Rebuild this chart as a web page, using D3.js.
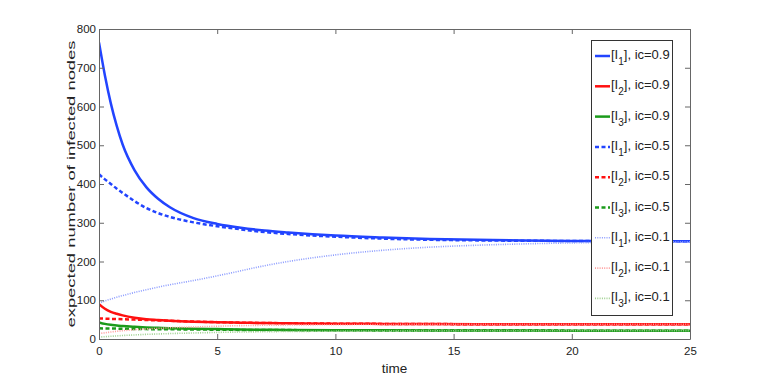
<!DOCTYPE html>
<html>
<head>
<meta charset="utf-8">
<script src="https://cdn.jsdelivr.net/npm/d3@7"></script>
<style>
  body { margin: 0; background: #fff; }
  text { font-family: Arial, "Liberation Sans", sans-serif; fill: #222; }
</style>
</head>
<body>
<svg width="763" height="382"></svg>
<script>
// time points
var time = [0, 0.25, 0.5, 0.75, 1, 1.5, 2, 2.5, 3, 4, 5, 6, 7, 8, 10, 12, 14, 16, 18, 20, 22, 25];

var i1_09 = [765, 680, 608, 550, 502, 436, 392, 362, 340, 312, 297, 287, 280, 275, 267, 262, 258, 256, 254, 253, 252.5, 252];
var i2_09 = [90, 78, 70, 65, 61, 55, 51, 49, 47, 44.5, 43, 42, 41, 40.5, 39.5, 39, 38.5, 38.3, 38.2, 38.1, 38, 38];
var i3_09 = [43, 39, 36.5, 35, 33.5, 31.5, 30, 29, 28, 26.5, 25.5, 24.5, 24, 23.5, 22.8, 22.3, 22, 21.8, 21.7, 21.6, 21.5, 21.5];

var i1_05 = [425, 412, 400, 388, 377, 356, 338, 325, 315, 301, 291, 283, 276, 271, 264, 259, 256, 254.5, 253.5, 253, 252.5, 252];
var i2_05 = [53, 52.5, 52, 51.5, 51, 50, 49, 48, 47, 45, 43.5, 42.3, 41.3, 40.6, 39.6, 39, 38.5, 38.3, 38.2, 38.1, 38, 38];
var i3_05 = [27.5, 27.3, 27, 26.8, 26.5, 26, 25.5, 25.2, 25, 24.5, 24, 23.5, 23.2, 23, 22.5, 22.2, 22, 21.8, 21.7, 21.6, 21.5, 21.5];

var i1_01 = [92, 98, 103, 108, 112, 120, 127, 134, 140, 151, 163, 176, 189, 200, 217, 229, 237, 242, 245.5, 248, 250, 251];
var i2_01 = [14, 16, 18, 20, 21.5, 24, 26, 27.5, 29, 31, 33, 34.5, 35.5, 36, 37, 37.5, 37.8, 38, 38, 38, 38, 38];
var i3_01 = [5, 6, 7, 8, 9, 10.5, 12, 13, 14, 15.5, 17, 18, 18.8, 19.4, 20.2, 20.8, 21.1, 21.3, 21.4, 21.5, 21.5, 21.5];

var labels = ["1", "2", "3", "1", "2", "3", "1", "2", "3"];
var ics = ["0.9", "0.9", "0.9", "0.5", "0.5", "0.5", "0.1", "0.1", "0.1"];

var xTicks = [0, 5, 10, 15, 20, 25];
var yTicks = [0, 100, 200, 300, 400, 500, 600, 700, 800];

var series = [
  {v: i1_09, c: "#2244ff", w: 2.5, d: null},
  {v: i2_09, c: "#ff1010", w: 2.5, d: null},
  {v: i3_09, c: "#1b9b1b", w: 2.5, d: null},
  {v: i1_05, c: "#2244ff", w: 2.5, d: "4,2.5"},
  {v: i2_05, c: "#ff1010", w: 2.5, d: "4,2.5"},
  {v: i3_05, c: "#1b9b1b", w: 2.5, d: "4,2.5"},
  {v: i1_01, c: "#8c9cff", w: 1.6, d: "1,1.3"},
  {v: i2_01, c: "#ff9c9c", w: 1.6, d: "1,1.3"},
  {v: i3_01, c: "#9fd090", w: 1.6, d: "1,1.3"}
];

var padLeft = 99, padTop = 29, plotW = 591, plotH = 310;

var svg = d3.select("svg");
var g = svg.append("g").attr("transform", "translate(" + padLeft + "," + padTop + ")");

var x = d3.scaleLinear().domain([0, 25]).range([0, plotW]);
var y = d3.scaleLinear().domain([0, 800]).range([plotH, 0]);

g.append("defs").append("clipPath").attr("id", "clip")
  .append("rect").attr("width", plotW).attr("height", plotH);

var line = d3.line()
  .x(function(d, i) { return x(time[i]); })
  .y(function(d) { return y(d); })
  .curve(d3.curveMonotoneX);

g.append("g").attr("clip-path", "url(#clip)")
  .selectAll("path")
  .data(series)
  .enter()
  .append("path")
  .attr("fill", "none")
  .attr("stroke", function(d) { return d.c; })
  .attr("stroke-width", function(d) { return d.w; })
  .attr("stroke-dasharray", function(d) { return d.d; })
  .attr("d", function(d) { return line(d.v); });

// axes, ticks inward on all four sides
var xb = g.append("g").attr("transform", "translate(0," + plotH + ")")
  .call(d3.axisBottom(x).tickValues(xTicks).tickSizeInner(-5).tickSizeOuter(0).tickPadding(10));
var yl = g.append("g")
  .call(d3.axisLeft(y).tickValues(yTicks).tickSizeInner(-5).tickSizeOuter(0).tickPadding(3));
var xt = g.append("g")
  .call(d3.axisTop(x).tickValues(xTicks).tickSizeInner(-5).tickSizeOuter(0).tickFormat(""));
var yr = g.append("g").attr("transform", "translate(" + plotW + ",0)")
  .call(d3.axisRight(y).tickValues(yTicks).tickSizeInner(-5).tickSizeOuter(0).tickFormat(""));

[xb, yl, xt, yr].forEach(function(a) {
  a.select(".domain").attr("stroke", "#666");
  a.selectAll(".tick line").attr("stroke", "#666");
  a.selectAll(".tick text").style("font-size", "11.5px").attr("fill", "#222");
});
xb.selectAll(".tick text").attr("dy", "0.55em");

svg.append("text")
  .attr("x", padLeft + plotW / 2)
  .attr("y", 373)
  .attr("text-anchor", "middle")
  .style("font-size", "13.5px")
  .text("time");

svg.append("text")
  .attr("transform", "translate(75," + (padTop + plotH / 2) + ") rotate(-90)")
  .attr("text-anchor", "middle")
  .attr("textLength", 287)
  .attr("lengthAdjust", "spacingAndGlyphs")
  .style("font-size", "11.5px")
  .text("expected number of infected nodes");

// legend
var lg = svg.append("g");
lg.append("rect")
  .attr("x", 591.5).attr("y", 40.5)
  .attr("width", 81).attr("height", 275)
  .attr("fill", "#fff").attr("stroke", "#333");

var rows = lg.selectAll("g.row")
  .data(series)
  .enter()
  .append("g")
  .attr("class", "row")
  .attr("transform", function(d, i) { return "translate(595," + (56 + i * 30.3) + ")"; });

rows.append("line")
  .attr("x1", 0).attr("x2", 15)
  .attr("stroke", function(d) { return d.c; })
  .attr("stroke-width", function(d) { return d.w; })
  .attr("stroke-dasharray", function(d) { return d.d; });

var lt = rows.append("text")
  .attr("x", 16).attr("y", 3)
  .style("font-size", "13px");
lt.append("tspan").text("[I");
lt.append("tspan")
  .attr("dy", 6)
  .style("font-size", "10px")
  .text(function(d, i) { return labels[i]; });
lt.append("tspan")
  .attr("dy", -6)
  .text(function(d, i) { return "], ic=" + ics[i]; });
</script>
</body>
</html>
